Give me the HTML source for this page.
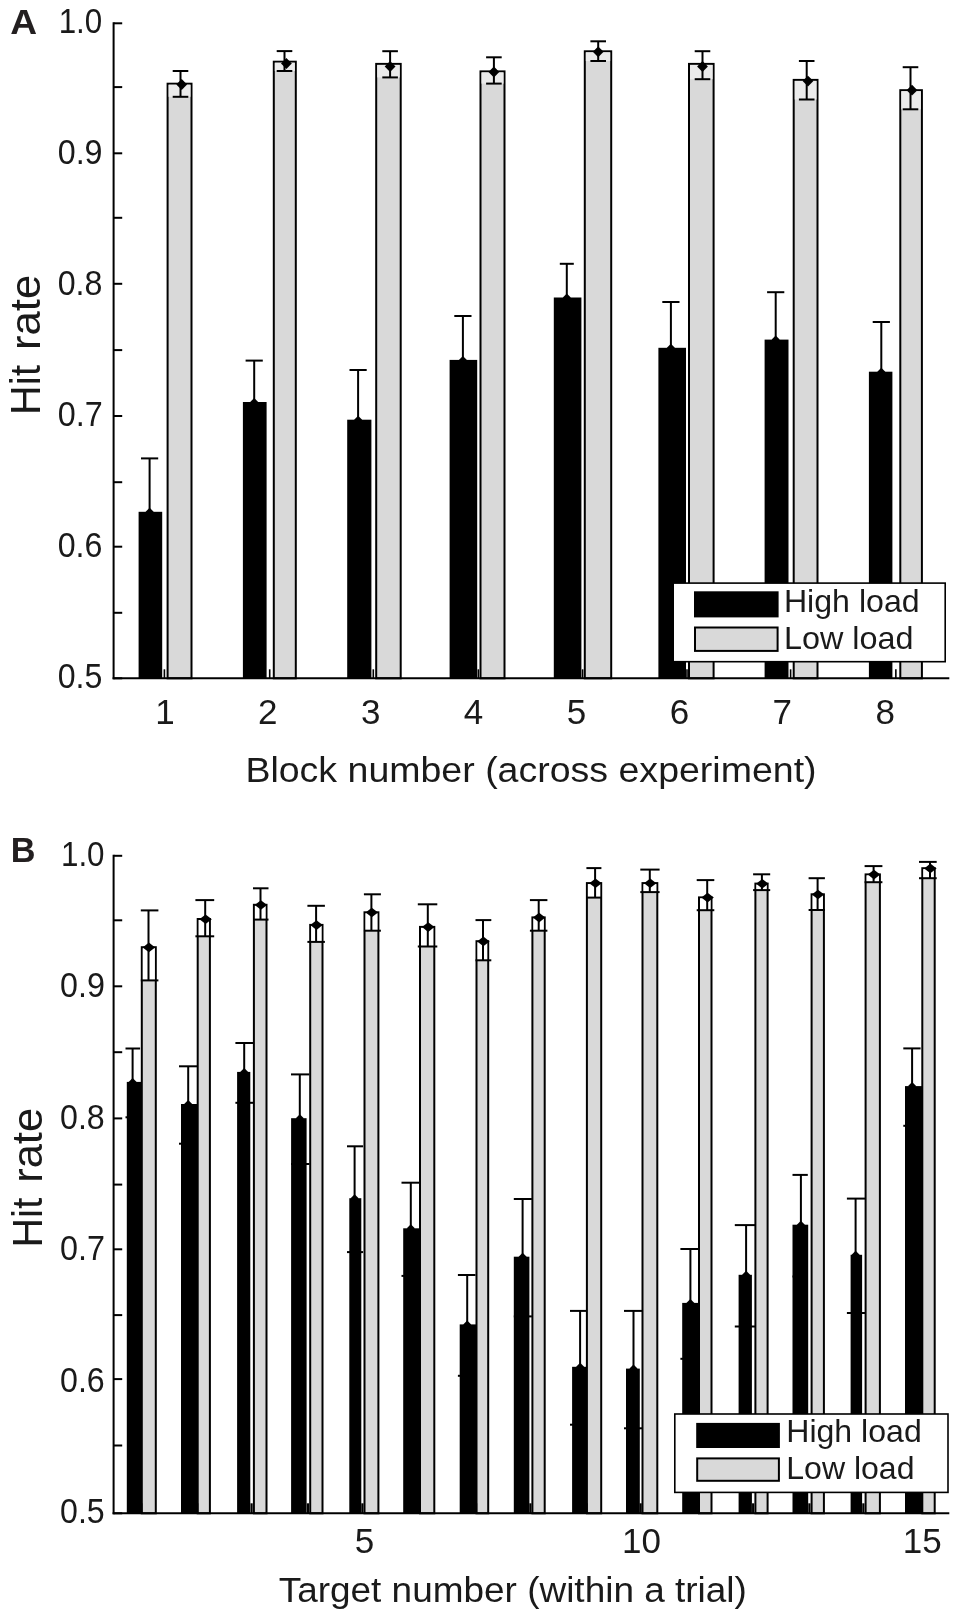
<!DOCTYPE html>
<html lang="en"><head><meta charset="utf-8"><title>Hit rate figure</title>
<style>
html,body{margin:0;padding:0;background:#fff;}
body{width:957px;height:1619px;overflow:hidden;}
svg{display:block;filter:blur(0.45px);}
svg text{font-family:"Liberation Sans", Arial, Helvetica, sans-serif;fill:#1a1a1a;}
</style></head><body>
<svg width="957" height="1619" viewBox="0 0 957 1619">
<rect x="0" y="0" width="957" height="1619" fill="#fff"/>
<rect x="138.60" y="511.80" width="23.60" height="166.50" fill="#000"/>
<line x1="149.60" y1="458.40" x2="149.60" y2="512.80" stroke="#000" stroke-width="2.0"/>
<line x1="141.00" y1="458.40" x2="158.20" y2="458.40" stroke="#000" stroke-width="2.0"/>
<polygon points="145.60,511.80 149.60,507.80 153.60,511.80 149.60,515.80" fill="#000"/>
<rect x="242.90" y="402.00" width="23.70" height="276.30" fill="#000"/>
<line x1="254.20" y1="360.60" x2="254.20" y2="403.00" stroke="#000" stroke-width="2.0"/>
<line x1="245.60" y1="360.60" x2="262.80" y2="360.60" stroke="#000" stroke-width="2.0"/>
<polygon points="250.20,402.00 254.20,398.00 258.20,402.00 254.20,406.00" fill="#000"/>
<rect x="347.20" y="419.70" width="24.20" height="258.60" fill="#000"/>
<line x1="358.10" y1="370.00" x2="358.10" y2="420.70" stroke="#000" stroke-width="2.0"/>
<line x1="349.50" y1="370.00" x2="366.70" y2="370.00" stroke="#000" stroke-width="2.0"/>
<polygon points="354.10,419.70 358.10,415.70 362.10,419.70 358.10,423.70" fill="#000"/>
<rect x="449.60" y="359.90" width="27.60" height="318.40" fill="#000"/>
<line x1="462.90" y1="316.00" x2="462.90" y2="360.90" stroke="#000" stroke-width="2.0"/>
<line x1="454.30" y1="316.00" x2="471.50" y2="316.00" stroke="#000" stroke-width="2.0"/>
<polygon points="458.90,359.90 462.90,355.90 466.90,359.90 462.90,363.90" fill="#000"/>
<rect x="553.80" y="297.50" width="27.60" height="380.80" fill="#000"/>
<line x1="566.80" y1="263.80" x2="566.80" y2="298.50" stroke="#000" stroke-width="2.0"/>
<line x1="559.80" y1="263.80" x2="573.80" y2="263.80" stroke="#000" stroke-width="2.0"/>
<polygon points="562.80,297.50 566.80,293.50 570.80,297.50 566.80,301.50" fill="#000"/>
<rect x="658.40" y="347.80" width="27.60" height="330.50" fill="#000"/>
<line x1="670.90" y1="302.00" x2="670.90" y2="348.80" stroke="#000" stroke-width="2.0"/>
<line x1="662.30" y1="302.00" x2="679.50" y2="302.00" stroke="#000" stroke-width="2.0"/>
<polygon points="666.90,347.80 670.90,343.80 674.90,347.80 670.90,351.80" fill="#000"/>
<rect x="764.60" y="339.60" width="23.90" height="338.70" fill="#000"/>
<line x1="775.70" y1="292.20" x2="775.70" y2="340.60" stroke="#000" stroke-width="2.0"/>
<line x1="767.10" y1="292.20" x2="784.30" y2="292.20" stroke="#000" stroke-width="2.0"/>
<polygon points="771.70,339.60 775.70,335.60 779.70,339.60 775.70,343.60" fill="#000"/>
<rect x="868.90" y="371.70" width="23.50" height="306.60" fill="#000"/>
<line x1="881.30" y1="322.00" x2="881.30" y2="372.70" stroke="#000" stroke-width="2.0"/>
<line x1="872.70" y1="322.00" x2="889.90" y2="322.00" stroke="#000" stroke-width="2.0"/>
<polygon points="877.30,371.70 881.30,367.70 885.30,371.70 881.30,375.70" fill="#000"/>
<rect x="167.60" y="83.70" width="23.90" height="594.60" fill="#d9d9d9" stroke="#000" stroke-width="2.0"/>
<rect x="168.60" y="84.70" width="21.90" height="12.10" fill="#ebebeb"/>
<line x1="180.50" y1="71.00" x2="180.50" y2="96.80" stroke="#000" stroke-width="2.0"/>
<line x1="172.70" y1="71.00" x2="188.30" y2="71.00" stroke="#000" stroke-width="2.0"/>
<line x1="172.70" y1="96.80" x2="188.30" y2="96.80" stroke="#000" stroke-width="2.0"/>
<polygon points="176.30,84.50 181.70,79.10 187.10,84.50 181.70,89.90" fill="#000"/>
<rect x="273.80" y="61.70" width="22.00" height="616.60" fill="#d9d9d9" stroke="#000" stroke-width="2.0"/>
<rect x="274.80" y="62.70" width="20.00" height="8.30" fill="#ebebeb"/>
<line x1="284.50" y1="51.10" x2="284.50" y2="71.00" stroke="#000" stroke-width="2.0"/>
<line x1="276.70" y1="51.10" x2="292.30" y2="51.10" stroke="#000" stroke-width="2.0"/>
<line x1="276.70" y1="71.00" x2="292.30" y2="71.00" stroke="#000" stroke-width="2.0"/>
<polygon points="281.00,63.50 286.40,58.10 291.80,63.50 286.40,68.90" fill="#000"/>
<rect x="376.20" y="63.90" width="24.50" height="614.40" fill="#d9d9d9" stroke="#000" stroke-width="2.0"/>
<rect x="377.20" y="64.90" width="22.50" height="12.50" fill="#ebebeb"/>
<line x1="390.10" y1="51.20" x2="390.10" y2="77.40" stroke="#000" stroke-width="2.0"/>
<line x1="382.30" y1="51.20" x2="397.90" y2="51.20" stroke="#000" stroke-width="2.0"/>
<line x1="382.30" y1="77.40" x2="397.90" y2="77.40" stroke="#000" stroke-width="2.0"/>
<polygon points="384.70,66.50 390.10,61.10 395.50,66.50 390.10,71.90" fill="#000"/>
<rect x="480.50" y="71.40" width="24.00" height="606.90" fill="#d9d9d9" stroke="#000" stroke-width="2.0"/>
<rect x="481.50" y="72.40" width="22.00" height="11.20" fill="#ebebeb"/>
<line x1="493.90" y1="57.30" x2="493.90" y2="83.60" stroke="#000" stroke-width="2.0"/>
<line x1="486.10" y1="57.30" x2="501.70" y2="57.30" stroke="#000" stroke-width="2.0"/>
<line x1="486.10" y1="83.60" x2="501.70" y2="83.60" stroke="#000" stroke-width="2.0"/>
<polygon points="488.50,72.00 493.90,66.60 499.30,72.00 493.90,77.40" fill="#000"/>
<rect x="584.80" y="51.30" width="26.40" height="627.00" fill="#d9d9d9" stroke="#000" stroke-width="2.0"/>
<rect x="585.80" y="52.30" width="24.40" height="8.70" fill="#ebebeb"/>
<line x1="598.20" y1="41.30" x2="598.20" y2="61.00" stroke="#000" stroke-width="2.0"/>
<line x1="590.40" y1="41.30" x2="606.00" y2="41.30" stroke="#000" stroke-width="2.0"/>
<line x1="590.40" y1="61.00" x2="606.00" y2="61.00" stroke="#000" stroke-width="2.0"/>
<polygon points="592.80,51.80 598.20,46.40 603.60,51.80 598.20,57.20" fill="#000"/>
<rect x="689.00" y="63.90" width="24.60" height="614.40" fill="#d9d9d9" stroke="#000" stroke-width="2.0"/>
<rect x="690.00" y="64.90" width="22.60" height="14.30" fill="#ebebeb"/>
<line x1="702.50" y1="51.20" x2="702.50" y2="79.20" stroke="#000" stroke-width="2.0"/>
<line x1="694.70" y1="51.20" x2="710.30" y2="51.20" stroke="#000" stroke-width="2.0"/>
<line x1="694.70" y1="79.20" x2="710.30" y2="79.20" stroke="#000" stroke-width="2.0"/>
<polygon points="697.10,66.50 702.50,61.10 707.90,66.50 702.50,71.90" fill="#000"/>
<rect x="793.70" y="79.90" width="23.80" height="598.40" fill="#d9d9d9" stroke="#000" stroke-width="2.0"/>
<rect x="794.70" y="80.90" width="21.80" height="18.60" fill="#ebebeb"/>
<line x1="806.70" y1="61.00" x2="806.70" y2="99.50" stroke="#000" stroke-width="2.0"/>
<line x1="798.90" y1="61.00" x2="814.50" y2="61.00" stroke="#000" stroke-width="2.0"/>
<line x1="798.90" y1="99.50" x2="814.50" y2="99.50" stroke="#000" stroke-width="2.0"/>
<polygon points="802.60,81.10 808.00,75.70 813.40,81.10 808.00,86.50" fill="#000"/>
<rect x="900.30" y="90.20" width="21.60" height="588.10" fill="#d9d9d9" stroke="#000" stroke-width="2.0"/>
<rect x="901.30" y="91.20" width="19.60" height="18.10" fill="#ebebeb"/>
<line x1="910.50" y1="67.20" x2="910.50" y2="109.30" stroke="#000" stroke-width="2.0"/>
<line x1="902.70" y1="67.20" x2="918.30" y2="67.20" stroke="#000" stroke-width="2.0"/>
<line x1="902.70" y1="109.30" x2="918.30" y2="109.30" stroke="#000" stroke-width="2.0"/>
<polygon points="906.60,90.20 912.00,84.80 917.40,90.20 912.00,95.60" fill="#000"/>
<line x1="164.40" y1="678.30" x2="164.40" y2="669.30" stroke="#000" stroke-width="1.6"/>
<line x1="269.70" y1="678.30" x2="269.70" y2="669.30" stroke="#000" stroke-width="1.6"/>
<line x1="373.30" y1="678.30" x2="373.30" y2="669.30" stroke="#000" stroke-width="1.6"/>
<line x1="478.35" y1="678.30" x2="478.35" y2="669.30" stroke="#000" stroke-width="1.6"/>
<line x1="582.60" y1="678.30" x2="582.60" y2="669.30" stroke="#000" stroke-width="1.6"/>
<line x1="687.00" y1="678.30" x2="687.00" y2="669.30" stroke="#000" stroke-width="1.6"/>
<line x1="790.60" y1="678.30" x2="790.60" y2="669.30" stroke="#000" stroke-width="1.6"/>
<line x1="895.85" y1="678.30" x2="895.85" y2="669.30" stroke="#000" stroke-width="1.6"/>
<line x1="113.60" y1="22.30" x2="113.60" y2="679.30" stroke="#000" stroke-width="2"/>
<line x1="112.60" y1="678.30" x2="949.30" y2="678.30" stroke="#000" stroke-width="2"/>
<line x1="113.60" y1="678.30" x2="122.20" y2="678.30" stroke="#000" stroke-width="2"/>
<line x1="113.60" y1="612.80" x2="122.20" y2="612.80" stroke="#000" stroke-width="2"/>
<line x1="113.60" y1="546.70" x2="122.20" y2="546.70" stroke="#000" stroke-width="2"/>
<line x1="113.60" y1="482.20" x2="122.20" y2="482.20" stroke="#000" stroke-width="2"/>
<line x1="113.60" y1="416.00" x2="122.20" y2="416.00" stroke="#000" stroke-width="2"/>
<line x1="113.60" y1="350.10" x2="122.20" y2="350.10" stroke="#000" stroke-width="2"/>
<line x1="113.60" y1="283.80" x2="122.20" y2="283.80" stroke="#000" stroke-width="2"/>
<line x1="113.60" y1="217.80" x2="122.20" y2="217.80" stroke="#000" stroke-width="2"/>
<line x1="113.60" y1="153.30" x2="122.20" y2="153.30" stroke="#000" stroke-width="2"/>
<line x1="113.60" y1="87.10" x2="122.20" y2="87.10" stroke="#000" stroke-width="2"/>
<line x1="113.60" y1="23.30" x2="122.20" y2="23.30" stroke="#000" stroke-width="2"/>
<text x="57.71" y="688.00" font-size="35" font-weight="normal" textLength="44.68" lengthAdjust="spacingAndGlyphs">0.5</text>
<text x="57.71" y="557.00" font-size="35" font-weight="normal" textLength="44.76" lengthAdjust="spacingAndGlyphs">0.6</text>
<text x="57.70" y="426.00" font-size="35" font-weight="normal" textLength="45.02" lengthAdjust="spacingAndGlyphs">0.7</text>
<text x="57.71" y="295.00" font-size="35" font-weight="normal" textLength="44.76" lengthAdjust="spacingAndGlyphs">0.8</text>
<text x="57.71" y="164.00" font-size="35" font-weight="normal" textLength="44.85" lengthAdjust="spacingAndGlyphs">0.9</text>
<text x="58.65" y="33.00" font-size="35" font-weight="normal" textLength="43.64" lengthAdjust="spacingAndGlyphs">1.0</text>
<text x="164.90" y="724.00" font-size="35" text-anchor="middle" font-weight="normal" >1</text>
<text x="267.80" y="724.00" font-size="35" text-anchor="middle" font-weight="normal" >2</text>
<text x="370.70" y="724.00" font-size="35" text-anchor="middle" font-weight="normal" >3</text>
<text x="473.60" y="724.00" font-size="35" text-anchor="middle" font-weight="normal" >4</text>
<text x="576.50" y="724.00" font-size="35" text-anchor="middle" font-weight="normal" >5</text>
<text x="679.40" y="724.00" font-size="35" text-anchor="middle" font-weight="normal" >6</text>
<text x="782.30" y="724.00" font-size="35" text-anchor="middle" font-weight="normal" >7</text>
<text x="885.20" y="724.00" font-size="35" text-anchor="middle" font-weight="normal" >8</text>
<text x="245.41" y="781.90" font-size="35.3" font-weight="normal" textLength="571.15" lengthAdjust="spacingAndGlyphs">Block number (across experiment)</text>
<text transform="translate(40.30,411.50) rotate(-90)" font-size="43"><tspan x="-3.38" y="0" textLength="50.08" lengthAdjust="spacingAndGlyphs">Hit</tspan> <tspan x="61.45" y="0" textLength="75.34" lengthAdjust="spacingAndGlyphs">rate</tspan></text>
<text x="10.17" y="34.40" font-size="35" font-weight="bold" textLength="26.84" lengthAdjust="spacingAndGlyphs" style="fill:#231f20">A</text>
<rect x="673.20" y="583.10" width="272.00" height="78.60" fill="#fff" stroke="#000" stroke-width="1.6"/>
<rect x="694.00" y="591.30" width="84.60" height="26.10" fill="#000"/>
<rect x="695.00" y="627.50" width="82.60" height="23.40" fill="#d9d9d9" stroke="#000" stroke-width="2"/>
<text x="783.95" y="612.40" font-size="31.5" font-weight="normal" textLength="135.66" lengthAdjust="spacingAndGlyphs">High load</text>
<text x="783.93" y="648.90" font-size="31.5" font-weight="normal" textLength="129.51" lengthAdjust="spacingAndGlyphs">Low load</text>
<rect x="126.80" y="1081.90" width="15.00" height="431.40" fill="#000"/>
<line x1="132.60" y1="1048.50" x2="132.60" y2="1082.90" stroke="#000" stroke-width="2.0"/>
<line x1="125.50" y1="1048.50" x2="140.10" y2="1048.50" stroke="#000" stroke-width="2.0"/>
<line x1="125.50" y1="1117.30" x2="140.10" y2="1117.30" stroke="#000" stroke-width="2.0"/>
<polygon points="128.60,1081.90 132.60,1077.90 136.60,1081.90 132.60,1085.90" fill="#000"/>
<rect x="181.00" y="1104.00" width="16.70" height="409.30" fill="#000"/>
<line x1="188.20" y1="1066.30" x2="188.20" y2="1105.00" stroke="#000" stroke-width="2.0"/>
<line x1="179.00" y1="1066.30" x2="197.30" y2="1066.30" stroke="#000" stroke-width="2.0"/>
<line x1="179.00" y1="1143.70" x2="197.30" y2="1143.70" stroke="#000" stroke-width="2.0"/>
<polygon points="184.20,1104.00 188.20,1100.00 192.20,1104.00 188.20,1108.00" fill="#000"/>
<rect x="237.10" y="1071.90" width="13.20" height="441.40" fill="#000"/>
<line x1="244.20" y1="1043.00" x2="244.20" y2="1072.90" stroke="#000" stroke-width="2.0"/>
<line x1="235.40" y1="1043.00" x2="253.00" y2="1043.00" stroke="#000" stroke-width="2.0"/>
<line x1="235.40" y1="1102.80" x2="253.00" y2="1102.80" stroke="#000" stroke-width="2.0"/>
<polygon points="240.20,1071.90 244.20,1067.90 248.20,1071.90 244.20,1075.90" fill="#000"/>
<rect x="291.10" y="1118.20" width="15.50" height="395.10" fill="#000"/>
<line x1="299.80" y1="1074.40" x2="299.80" y2="1119.20" stroke="#000" stroke-width="2.0"/>
<line x1="291.00" y1="1074.40" x2="309.40" y2="1074.40" stroke="#000" stroke-width="2.0"/>
<line x1="291.00" y1="1164.00" x2="309.40" y2="1164.00" stroke="#000" stroke-width="2.0"/>
<polygon points="295.80,1118.20 299.80,1114.20 303.80,1118.20 299.80,1122.20" fill="#000"/>
<rect x="349.30" y="1198.20" width="12.00" height="315.10" fill="#000"/>
<line x1="354.60" y1="1146.30" x2="354.60" y2="1199.20" stroke="#000" stroke-width="2.0"/>
<line x1="347.00" y1="1146.30" x2="363.10" y2="1146.30" stroke="#000" stroke-width="2.0"/>
<line x1="347.00" y1="1252.10" x2="363.10" y2="1252.10" stroke="#000" stroke-width="2.0"/>
<polygon points="350.60,1198.20 354.60,1194.20 358.60,1198.20 354.60,1202.20" fill="#000"/>
<rect x="403.20" y="1228.30" width="17.10" height="285.00" fill="#000"/>
<line x1="410.80" y1="1182.70" x2="410.80" y2="1229.30" stroke="#000" stroke-width="2.0"/>
<line x1="401.50" y1="1182.70" x2="419.50" y2="1182.70" stroke="#000" stroke-width="2.0"/>
<line x1="401.50" y1="1275.90" x2="419.50" y2="1275.90" stroke="#000" stroke-width="2.0"/>
<polygon points="406.80,1228.30 410.80,1224.30 414.80,1228.30 410.80,1232.30" fill="#000"/>
<rect x="459.70" y="1324.40" width="17.00" height="188.90" fill="#000"/>
<line x1="467.20" y1="1275.00" x2="467.20" y2="1325.40" stroke="#000" stroke-width="2.0"/>
<line x1="457.90" y1="1275.00" x2="475.50" y2="1275.00" stroke="#000" stroke-width="2.0"/>
<line x1="457.90" y1="1375.80" x2="475.50" y2="1375.80" stroke="#000" stroke-width="2.0"/>
<polygon points="463.20,1324.40 467.20,1320.40 471.20,1324.40 467.20,1328.40" fill="#000"/>
<rect x="513.80" y="1256.70" width="15.60" height="256.60" fill="#000"/>
<line x1="522.60" y1="1199.00" x2="522.60" y2="1257.70" stroke="#000" stroke-width="2.0"/>
<line x1="513.80" y1="1199.00" x2="531.90" y2="1199.00" stroke="#000" stroke-width="2.0"/>
<line x1="513.80" y1="1316.40" x2="531.90" y2="1316.40" stroke="#000" stroke-width="2.0"/>
<polygon points="518.60,1256.70 522.60,1252.70 526.60,1256.70 522.60,1260.70" fill="#000"/>
<rect x="572.10" y="1366.80" width="15.00" height="146.50" fill="#000"/>
<line x1="580.10" y1="1310.90" x2="580.10" y2="1367.80" stroke="#000" stroke-width="2.0"/>
<line x1="570.00" y1="1310.90" x2="587.00" y2="1310.90" stroke="#000" stroke-width="2.0"/>
<line x1="570.00" y1="1424.70" x2="587.00" y2="1424.70" stroke="#000" stroke-width="2.0"/>
<polygon points="576.10,1366.80 580.10,1362.80 584.10,1366.80 580.10,1370.80" fill="#000"/>
<rect x="626.00" y="1368.60" width="13.80" height="144.70" fill="#000"/>
<line x1="633.50" y1="1310.90" x2="633.50" y2="1369.60" stroke="#000" stroke-width="2.0"/>
<line x1="624.00" y1="1310.90" x2="642.80" y2="1310.90" stroke="#000" stroke-width="2.0"/>
<line x1="624.00" y1="1428.30" x2="642.80" y2="1428.30" stroke="#000" stroke-width="2.0"/>
<polygon points="629.50,1368.60 633.50,1364.60 637.50,1368.60 633.50,1372.60" fill="#000"/>
<rect x="682.20" y="1302.90" width="17.50" height="210.40" fill="#000"/>
<line x1="690.40" y1="1249.00" x2="690.40" y2="1303.90" stroke="#000" stroke-width="2.0"/>
<line x1="680.40" y1="1249.00" x2="699.70" y2="1249.00" stroke="#000" stroke-width="2.0"/>
<line x1="680.40" y1="1358.80" x2="699.70" y2="1358.80" stroke="#000" stroke-width="2.0"/>
<polygon points="686.40,1302.90 690.40,1298.90 694.40,1302.90 690.40,1306.90" fill="#000"/>
<rect x="738.60" y="1274.80" width="13.30" height="238.50" fill="#000"/>
<line x1="746.10" y1="1225.10" x2="746.10" y2="1275.80" stroke="#000" stroke-width="2.0"/>
<line x1="734.80" y1="1225.10" x2="755.10" y2="1225.10" stroke="#000" stroke-width="2.0"/>
<line x1="734.80" y1="1326.50" x2="755.10" y2="1326.50" stroke="#000" stroke-width="2.0"/>
<polygon points="742.10,1274.80 746.10,1270.80 750.10,1274.80 746.10,1278.80" fill="#000"/>
<rect x="792.50" y="1224.70" width="15.70" height="288.60" fill="#000"/>
<line x1="800.90" y1="1174.90" x2="800.90" y2="1225.70" stroke="#000" stroke-width="2.0"/>
<line x1="792.50" y1="1174.90" x2="807.80" y2="1174.90" stroke="#000" stroke-width="2.0"/>
<line x1="792.50" y1="1276.50" x2="807.80" y2="1276.50" stroke="#000" stroke-width="2.0"/>
<polygon points="796.90,1224.70 800.90,1220.70 804.90,1224.70 800.90,1228.70" fill="#000"/>
<rect x="850.60" y="1254.80" width="11.50" height="258.50" fill="#000"/>
<line x1="855.60" y1="1198.60" x2="855.60" y2="1255.80" stroke="#000" stroke-width="2.0"/>
<line x1="846.90" y1="1198.60" x2="865.30" y2="1198.60" stroke="#000" stroke-width="2.0"/>
<line x1="846.90" y1="1313.00" x2="865.30" y2="1313.00" stroke="#000" stroke-width="2.0"/>
<polygon points="851.60,1254.80 855.60,1250.80 859.60,1254.80 855.60,1258.80" fill="#000"/>
<rect x="905.00" y="1086.10" width="17.10" height="427.20" fill="#000"/>
<line x1="912.10" y1="1048.40" x2="912.10" y2="1087.10" stroke="#000" stroke-width="2.0"/>
<line x1="903.30" y1="1048.40" x2="920.60" y2="1048.40" stroke="#000" stroke-width="2.0"/>
<line x1="903.30" y1="1125.80" x2="920.60" y2="1125.80" stroke="#000" stroke-width="2.0"/>
<polygon points="908.10,1086.10 912.10,1082.10 916.10,1086.10 912.10,1090.10" fill="#000"/>
<rect x="141.80" y="947.20" width="14.00" height="566.10" fill="#d9d9d9" stroke="#000" stroke-width="2.0"/>
<rect x="142.80" y="948.20" width="12.00" height="32.20" fill="#fff"/>
<line x1="148.50" y1="910.40" x2="148.50" y2="980.40" stroke="#000" stroke-width="2.0"/>
<line x1="140.80" y1="910.40" x2="158.40" y2="910.40" stroke="#000" stroke-width="2.0"/>
<line x1="140.80" y1="980.40" x2="158.40" y2="980.40" stroke="#000" stroke-width="2.0"/>
<polygon points="142.70,947.40 148.90,942.60 155.10,947.40 148.90,952.20" fill="#000"/>
<rect x="197.70" y="919.00" width="12.20" height="594.30" fill="#d9d9d9" stroke="#000" stroke-width="2.0"/>
<rect x="198.70" y="920.00" width="10.20" height="16.30" fill="#fff"/>
<line x1="205.20" y1="900.10" x2="205.20" y2="936.30" stroke="#000" stroke-width="2.0"/>
<line x1="195.40" y1="900.10" x2="214.20" y2="900.10" stroke="#000" stroke-width="2.0"/>
<line x1="195.40" y1="936.30" x2="214.20" y2="936.30" stroke="#000" stroke-width="2.0"/>
<polygon points="199.40,919.20 205.60,914.40 211.80,919.20 205.60,924.00" fill="#000"/>
<rect x="253.90" y="904.80" width="12.60" height="608.50" fill="#d9d9d9" stroke="#000" stroke-width="2.0"/>
<rect x="254.90" y="905.80" width="10.60" height="13.80" fill="#fff"/>
<line x1="260.50" y1="888.30" x2="260.50" y2="919.60" stroke="#000" stroke-width="2.0"/>
<line x1="253.00" y1="888.30" x2="268.50" y2="888.30" stroke="#000" stroke-width="2.0"/>
<line x1="253.00" y1="919.60" x2="268.50" y2="919.60" stroke="#000" stroke-width="2.0"/>
<polygon points="254.70,905.00 260.90,900.20 267.10,905.00 260.90,909.80" fill="#000"/>
<rect x="310.20" y="924.90" width="12.30" height="588.40" fill="#d9d9d9" stroke="#000" stroke-width="2.0"/>
<rect x="311.20" y="925.90" width="10.30" height="16.00" fill="#fff"/>
<line x1="316.10" y1="905.80" x2="316.10" y2="941.90" stroke="#000" stroke-width="2.0"/>
<line x1="307.40" y1="905.80" x2="324.90" y2="905.80" stroke="#000" stroke-width="2.0"/>
<line x1="307.40" y1="941.90" x2="324.90" y2="941.90" stroke="#000" stroke-width="2.0"/>
<polygon points="310.30,925.10 316.50,920.30 322.70,925.10 316.50,929.90" fill="#000"/>
<rect x="364.50" y="912.30" width="13.90" height="601.00" fill="#d9d9d9" stroke="#000" stroke-width="2.0"/>
<rect x="365.50" y="913.30" width="11.90" height="17.40" fill="#fff"/>
<line x1="371.40" y1="894.30" x2="371.40" y2="930.70" stroke="#000" stroke-width="2.0"/>
<line x1="363.90" y1="894.30" x2="380.90" y2="894.30" stroke="#000" stroke-width="2.0"/>
<line x1="363.90" y1="930.70" x2="380.90" y2="930.70" stroke="#000" stroke-width="2.0"/>
<polygon points="365.60,912.50 371.80,907.70 378.00,912.50 371.80,917.30" fill="#000"/>
<rect x="420.00" y="926.90" width="14.30" height="586.40" fill="#d9d9d9" stroke="#000" stroke-width="2.0"/>
<rect x="421.00" y="927.90" width="12.30" height="18.60" fill="#fff"/>
<line x1="427.80" y1="904.30" x2="427.80" y2="946.50" stroke="#000" stroke-width="2.0"/>
<line x1="417.80" y1="904.30" x2="437.30" y2="904.30" stroke="#000" stroke-width="2.0"/>
<line x1="417.80" y1="946.50" x2="437.30" y2="946.50" stroke="#000" stroke-width="2.0"/>
<polygon points="422.00,927.10 428.20,922.30 434.40,927.10 428.20,931.90" fill="#000"/>
<rect x="476.50" y="941.20" width="11.70" height="572.10" fill="#d9d9d9" stroke="#000" stroke-width="2.0"/>
<rect x="477.50" y="942.20" width="9.70" height="18.10" fill="#fff"/>
<line x1="483.00" y1="920.10" x2="483.00" y2="960.30" stroke="#000" stroke-width="2.0"/>
<line x1="475.50" y1="920.10" x2="491.30" y2="920.10" stroke="#000" stroke-width="2.0"/>
<line x1="475.50" y1="960.30" x2="491.30" y2="960.30" stroke="#000" stroke-width="2.0"/>
<polygon points="477.20,941.40 483.40,936.60 489.60,941.40 483.40,946.20" fill="#000"/>
<rect x="532.40" y="917.40" width="12.30" height="595.90" fill="#d9d9d9" stroke="#000" stroke-width="2.0"/>
<rect x="533.40" y="918.40" width="10.30" height="12.30" fill="#fff"/>
<line x1="538.70" y1="900.10" x2="538.70" y2="930.70" stroke="#000" stroke-width="2.0"/>
<line x1="529.90" y1="900.10" x2="547.40" y2="900.10" stroke="#000" stroke-width="2.0"/>
<line x1="529.90" y1="930.70" x2="547.40" y2="930.70" stroke="#000" stroke-width="2.0"/>
<polygon points="532.90,917.60 539.10,912.80 545.30,917.60 539.10,922.40" fill="#000"/>
<rect x="586.90" y="883.10" width="14.30" height="630.20" fill="#d9d9d9" stroke="#000" stroke-width="2.0"/>
<rect x="587.90" y="884.10" width="12.30" height="13.50" fill="#fff"/>
<line x1="595.10" y1="868.10" x2="595.10" y2="897.60" stroke="#000" stroke-width="2.0"/>
<line x1="586.40" y1="868.10" x2="601.40" y2="868.10" stroke="#000" stroke-width="2.0"/>
<line x1="586.40" y1="897.60" x2="601.40" y2="897.60" stroke="#000" stroke-width="2.0"/>
<polygon points="589.30,883.30 595.50,878.50 601.70,883.30 595.50,888.10" fill="#000"/>
<rect x="642.50" y="883.10" width="14.80" height="630.20" fill="#d9d9d9" stroke="#000" stroke-width="2.0"/>
<rect x="643.50" y="884.10" width="12.80" height="8.00" fill="#fff"/>
<line x1="649.80" y1="869.60" x2="649.80" y2="892.10" stroke="#000" stroke-width="2.0"/>
<line x1="640.30" y1="869.60" x2="659.60" y2="869.60" stroke="#000" stroke-width="2.0"/>
<line x1="640.30" y1="892.10" x2="659.60" y2="892.10" stroke="#000" stroke-width="2.0"/>
<polygon points="644.00,883.30 650.20,878.50 656.40,883.30 650.20,888.10" fill="#000"/>
<rect x="699.00" y="897.40" width="12.50" height="615.90" fill="#d9d9d9" stroke="#000" stroke-width="2.0"/>
<rect x="700.00" y="898.40" width="10.50" height="11.80" fill="#fff"/>
<line x1="707.20" y1="880.10" x2="707.20" y2="910.20" stroke="#000" stroke-width="2.0"/>
<line x1="696.70" y1="880.10" x2="714.30" y2="880.10" stroke="#000" stroke-width="2.0"/>
<line x1="696.70" y1="910.20" x2="714.30" y2="910.20" stroke="#000" stroke-width="2.0"/>
<polygon points="701.40,897.60 707.60,892.80 713.80,897.60 707.60,902.40" fill="#000"/>
<rect x="755.40" y="883.60" width="12.20" height="629.70" fill="#d9d9d9" stroke="#000" stroke-width="2.0"/>
<rect x="756.40" y="884.60" width="10.20" height="5.50" fill="#fff"/>
<line x1="761.90" y1="874.30" x2="761.90" y2="890.10" stroke="#000" stroke-width="2.0"/>
<line x1="753.10" y1="874.30" x2="770.20" y2="874.30" stroke="#000" stroke-width="2.0"/>
<line x1="753.10" y1="890.10" x2="770.20" y2="890.10" stroke="#000" stroke-width="2.0"/>
<polygon points="756.10,883.80 762.30,879.00 768.50,883.80 762.30,888.60" fill="#000"/>
<rect x="811.60" y="894.30" width="12.30" height="619.00" fill="#d9d9d9" stroke="#000" stroke-width="2.0"/>
<rect x="812.60" y="895.30" width="10.30" height="14.70" fill="#fff"/>
<line x1="817.60" y1="878.20" x2="817.60" y2="910.00" stroke="#000" stroke-width="2.0"/>
<line x1="808.60" y1="878.20" x2="824.90" y2="878.20" stroke="#000" stroke-width="2.0"/>
<line x1="808.60" y1="910.00" x2="824.90" y2="910.00" stroke="#000" stroke-width="2.0"/>
<polygon points="811.80,894.50 818.00,889.70 824.20,894.50 818.00,899.30" fill="#000"/>
<rect x="865.60" y="874.40" width="14.30" height="638.90" fill="#d9d9d9" stroke="#000" stroke-width="2.0"/>
<rect x="866.60" y="875.40" width="12.30" height="6.80" fill="#fff"/>
<line x1="873.60" y1="866.10" x2="873.60" y2="882.20" stroke="#000" stroke-width="2.0"/>
<line x1="864.60" y1="866.10" x2="882.40" y2="866.10" stroke="#000" stroke-width="2.0"/>
<line x1="864.60" y1="882.20" x2="882.40" y2="882.20" stroke="#000" stroke-width="2.0"/>
<polygon points="867.80,874.60 874.00,869.80 880.20,874.60 874.00,879.40" fill="#000"/>
<rect x="922.30" y="868.20" width="12.40" height="645.10" fill="#d9d9d9" stroke="#000" stroke-width="2.0"/>
<rect x="923.30" y="869.20" width="10.40" height="9.00" fill="#fff"/>
<line x1="930.00" y1="861.90" x2="930.00" y2="878.20" stroke="#000" stroke-width="2.0"/>
<line x1="919.00" y1="861.90" x2="936.70" y2="861.90" stroke="#000" stroke-width="2.0"/>
<line x1="919.00" y1="878.20" x2="936.70" y2="878.20" stroke="#000" stroke-width="2.0"/>
<polygon points="924.20,868.40 930.40,863.60 936.60,868.40 930.40,873.20" fill="#000"/>
<line x1="141.30" y1="1513.30" x2="141.30" y2="1503.30" stroke="#000" stroke-width="2.2"/>
<line x1="197.20" y1="1513.30" x2="197.20" y2="1503.30" stroke="#000" stroke-width="2.2"/>
<line x1="251.60" y1="1513.30" x2="251.60" y2="1503.30" stroke="#000" stroke-width="2.2"/>
<line x1="307.90" y1="1513.30" x2="307.90" y2="1503.30" stroke="#000" stroke-width="2.2"/>
<line x1="362.40" y1="1513.30" x2="362.40" y2="1503.30" stroke="#000" stroke-width="2.2"/>
<line x1="419.65" y1="1513.30" x2="419.65" y2="1503.30" stroke="#000" stroke-width="2.2"/>
<line x1="476.10" y1="1513.30" x2="476.10" y2="1503.30" stroke="#000" stroke-width="2.2"/>
<line x1="530.40" y1="1513.30" x2="530.40" y2="1503.30" stroke="#000" stroke-width="2.2"/>
<line x1="586.50" y1="1513.30" x2="586.50" y2="1503.30" stroke="#000" stroke-width="2.2"/>
<line x1="640.65" y1="1513.30" x2="640.65" y2="1503.30" stroke="#000" stroke-width="2.2"/>
<line x1="698.85" y1="1513.30" x2="698.85" y2="1503.30" stroke="#000" stroke-width="2.2"/>
<line x1="753.15" y1="1513.30" x2="753.15" y2="1503.30" stroke="#000" stroke-width="2.2"/>
<line x1="809.40" y1="1513.30" x2="809.40" y2="1503.30" stroke="#000" stroke-width="2.2"/>
<line x1="863.35" y1="1513.30" x2="863.35" y2="1503.30" stroke="#000" stroke-width="2.2"/>
<line x1="921.70" y1="1513.30" x2="921.70" y2="1503.30" stroke="#000" stroke-width="2.2"/>
<line x1="113.60" y1="854.80" x2="113.60" y2="1514.30" stroke="#000" stroke-width="2"/>
<line x1="112.60" y1="1513.30" x2="949.30" y2="1513.30" stroke="#000" stroke-width="2"/>
<line x1="113.60" y1="1513.30" x2="122.20" y2="1513.30" stroke="#000" stroke-width="2"/>
<line x1="113.60" y1="1445.50" x2="122.20" y2="1445.50" stroke="#000" stroke-width="2"/>
<line x1="113.60" y1="1379.10" x2="122.20" y2="1379.10" stroke="#000" stroke-width="2"/>
<line x1="113.60" y1="1315.10" x2="122.20" y2="1315.10" stroke="#000" stroke-width="2"/>
<line x1="113.60" y1="1249.30" x2="122.20" y2="1249.30" stroke="#000" stroke-width="2"/>
<line x1="113.60" y1="1184.60" x2="122.20" y2="1184.60" stroke="#000" stroke-width="2"/>
<line x1="113.60" y1="1118.40" x2="122.20" y2="1118.40" stroke="#000" stroke-width="2"/>
<line x1="113.60" y1="1052.20" x2="122.20" y2="1052.20" stroke="#000" stroke-width="2"/>
<line x1="113.60" y1="986.30" x2="122.20" y2="986.30" stroke="#000" stroke-width="2"/>
<line x1="113.60" y1="920.30" x2="122.20" y2="920.30" stroke="#000" stroke-width="2"/>
<line x1="113.60" y1="855.80" x2="122.20" y2="855.80" stroke="#000" stroke-width="2"/>
<text x="60.01" y="1523.00" font-size="35" font-weight="normal" textLength="44.68" lengthAdjust="spacingAndGlyphs">0.5</text>
<text x="60.01" y="1391.50" font-size="35" font-weight="normal" textLength="44.76" lengthAdjust="spacingAndGlyphs">0.6</text>
<text x="60.00" y="1260.00" font-size="35" font-weight="normal" textLength="45.02" lengthAdjust="spacingAndGlyphs">0.7</text>
<text x="60.01" y="1128.50" font-size="35" font-weight="normal" textLength="44.76" lengthAdjust="spacingAndGlyphs">0.8</text>
<text x="60.01" y="997.00" font-size="35" font-weight="normal" textLength="44.85" lengthAdjust="spacingAndGlyphs">0.9</text>
<text x="60.95" y="865.50" font-size="35" font-weight="normal" textLength="43.64" lengthAdjust="spacingAndGlyphs">1.0</text>
<text x="364.50" y="1552.60" font-size="35" text-anchor="middle" font-weight="normal" >5</text>
<text x="641.40" y="1552.60" font-size="35" text-anchor="middle" font-weight="normal" >10</text>
<text x="922.30" y="1552.60" font-size="35" text-anchor="middle" font-weight="normal" >15</text>
<text x="278.67" y="1602.00" font-size="35.3" font-weight="normal" textLength="468.22" lengthAdjust="spacingAndGlyphs">Target number (within a trial)</text>
<text transform="translate(42.20,1244.20) rotate(-90)" font-size="43"><tspan x="-3.38" y="0" textLength="50.08" lengthAdjust="spacingAndGlyphs">Hit</tspan> <tspan x="61.36" y="0" textLength="75.02" lengthAdjust="spacingAndGlyphs">rate</tspan></text>
<text x="10.69" y="862.10" font-size="35" font-weight="bold" textLength="24.74" lengthAdjust="spacingAndGlyphs" style="fill:#231f20">B</text>
<rect x="674.80" y="1414.00" width="273.20" height="78.40" fill="#fff" stroke="#000" stroke-width="1.6"/>
<rect x="696.20" y="1422.90" width="83.70" height="25.10" fill="#000"/>
<rect x="697.20" y="1458.40" width="81.70" height="22.40" fill="#d9d9d9" stroke="#000" stroke-width="2"/>
<text x="786.26" y="1442.00" font-size="31.5" font-weight="normal" textLength="135.46" lengthAdjust="spacingAndGlyphs">High load</text>
<text x="786.26" y="1479.30" font-size="31.5" font-weight="normal" textLength="128.26" lengthAdjust="spacingAndGlyphs">Low load</text>
</svg>
</body></html>
